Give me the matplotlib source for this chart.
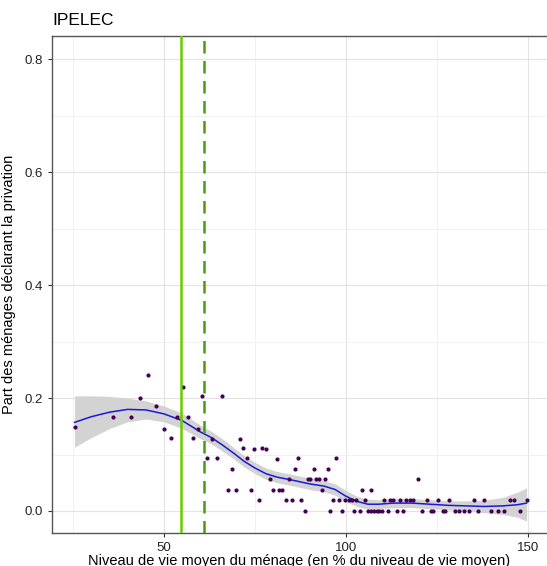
import numpy as np
import matplotlib.pyplot as plt

plt.rcParams['font.family'] = ['Liberation Sans', 'DejaVu Sans']

# points (niveau de vie, part privée)
pt_x = [25.4, 35.9, 40.9, 43.5, 45.5, 47.8, 50.0, 51.8, 53.6, 55.3, 56.6, 58.0,
        59.3, 60.4, 61.9, 63.1, 64.5, 65.9, 67.5, 68.6, 69.7, 70.8, 71.8, 72.8,
        73.8, 74.8, 76.0, 77.0, 78.0, 79.0, 79.9, 80.9, 81.6, 82.4, 83.5, 84.4,
        85.2, 86.1, 86.8, 87.7, 88.7, 89.5, 90.2, 91.1, 91.7, 92.6, 93.5, 94.1,
        95.0, 95.6, 96.4, 97.3, 98.1, 99.0, 99.8, 100.7, 101.6, 102.1, 102.6,
        103.7, 104.4, 105.3, 105.9, 106.9, 106.9, 107.6, 108.4, 119.8,
        110.5, 112.1, 112.9, 114.8, 116.6, 117.6, 118.5, 122.2, 125.2, 128.4,
        135.1, 137.9, 145.1, 146.2, 149.6,
        109.1, 109.8, 111.5, 113.9, 115.7, 120.9, 123.2, 124.0, 126.5, 127.3,
        129.8, 131.0, 132.4, 133.8, 136.3, 139.9, 141.7, 143.3, 147.9]
pt_y = [0.149, 0.167, 0.167, 0.200, 0.241, 0.186, 0.146, 0.130, 0.167, 0.219,
        0.167, 0.130, 0.146, 0.204, 0.093, 0.128, 0.093, 0.204, 0.037, 0.075,
        0.037, 0.128, 0.112, 0.093, 0.037, 0.110, 0.019, 0.112, 0.110, 0.057,
        0.037, 0.092, 0.037, 0.037, 0.019, 0.057, 0.019, 0.074, 0.093, 0.019,
        0.0, 0.057, 0.057, 0.075, 0.057, 0.057, 0.037, 0.057, 0.075, 0.0,
        0.019, 0.093, 0.019, 0.0, 0.019, 0.019, 0.019, 0.0, 0.019, 0.0, 0.037,
        0.019, 0.0, 0.0, 0.037, 0.0, 0.0, 0.057,
        0.019, 0.019, 0.019, 0.019, 0.019, 0.019, 0.019, 0.019, 0.019, 0.019,
        0.019, 0.019, 0.019, 0.019, 0.019,
        0.0, 0.0, 0.0, 0.0, 0.0, 0.0, 0.0, 0.0, 0.0, 0.0,
        0.0, 0.0, 0.0, 0.0, 0.0, 0.0, 0.0, 0.0, 0.0]

# courbe lissée + intervalle
sm_x = [25.4, 30.0, 35.0, 40.0, 45.0, 50.0, 55.0, 60.0, 63.0, 66.0, 69.0,
        72.0, 75.0, 78.0, 81.0, 85.0, 90.0, 94.0, 97.0, 100.0, 103.0, 106.0,
        109.0, 113.0, 118.0, 123.0, 128.0, 133.0, 138.0, 143.0, 147.0, 149.6]
sm_y = [0.157, 0.167, 0.175, 0.180, 0.179, 0.172, 0.160, 0.140, 0.130, 0.117,
        0.103, 0.088, 0.076, 0.066, 0.060, 0.055, 0.048, 0.044, 0.038, 0.026,
        0.017, 0.012, 0.012, 0.014, 0.014, 0.012, 0.010, 0.009, 0.008, 0.009,
        0.011, 0.014]
sm_hi = [0.204, 0.204, 0.203, 0.200, 0.195, 0.186, 0.173, 0.152, 0.141, 0.128,
         0.113, 0.098, 0.086, 0.076, 0.070, 0.065, 0.058, 0.054, 0.048, 0.036,
         0.026, 0.021, 0.020, 0.022, 0.022, 0.020, 0.018, 0.018, 0.019, 0.024,
         0.033, 0.041]
sm_lo = [0.113, 0.130, 0.146, 0.158, 0.163, 0.158, 0.146, 0.128, 0.119, 0.106,
         0.093, 0.078, 0.066, 0.056, 0.050, 0.045, 0.038, 0.034, 0.028, 0.016,
         0.008, 0.003, 0.004, 0.006, 0.006, 0.004, 0.002, 0.000, -0.003,
         -0.006, -0.011, -0.018]

seuil_solid = 54.7
seuil_dash = 61.0

fig = plt.figure(figsize=(5.47, 5.66), dpi=100)
ax = fig.add_axes([0.095, 0.0583, 0.905, 0.8777])

ax.fill_between(sm_x, sm_lo, sm_hi, color='#d3d3d3', lw=0, zorder=2)
ax.plot(sm_x, sm_y, color='#1a1ad6', lw=1.1, zorder=3)
ax.scatter(pt_x, pt_y, s=9, color='#440154', zorder=4, lw=0)

ax.axvline(seuil_solid, color='#66cc00', lw=1.8, zorder=5)
ax.axvline(seuil_dash, color='#4c9a10', lw=1.8, ls=(0, (5, 3)), zorder=5)

ax.set_xlim(19.2, 155.2)
ax.set_ylim(-0.039, 0.841)
ax.set_xticks([50, 100, 150])
ax.set_xticks([25, 75, 125], minor=True)
ax.set_yticks([0.0, 0.2, 0.4, 0.6, 0.8])
ax.set_yticklabels(['0.0', '0.2', '0.4', '0.6', '0.8'])
ax.set_yticks([0.1, 0.3, 0.5, 0.7], minor=True)
ax.grid(True, which='major', color='#e3e3e3', lw=0.8, zorder=0)
ax.grid(True, which='minor', color='#efefef', lw=0.6, zorder=0)
ax.set_axisbelow(True)
ax.tick_params(which='minor', length=0)
ax.tick_params(which='major', length=3, color='#333333', labelsize=9.5,
               labelcolor='#222222')

for s in ['left', 'bottom', 'top']:
    ax.spines[s].set_color('#555555')
    ax.spines[s].set_linewidth(1.0)
ax.spines['right'].set_visible(False)

ax.set_xlabel('Niveau de vie moyen du ménage (en % du niveau de vie moyen)',
              fontsize=10.5, labelpad=0)
ax.set_ylabel('Part des ménages déclarant la privation', fontsize=10.5, labelpad=6)
ax.set_title('IPELEC', loc='left', fontsize=12.5, pad=8)

fig.savefig('out.png', dpi=100)
